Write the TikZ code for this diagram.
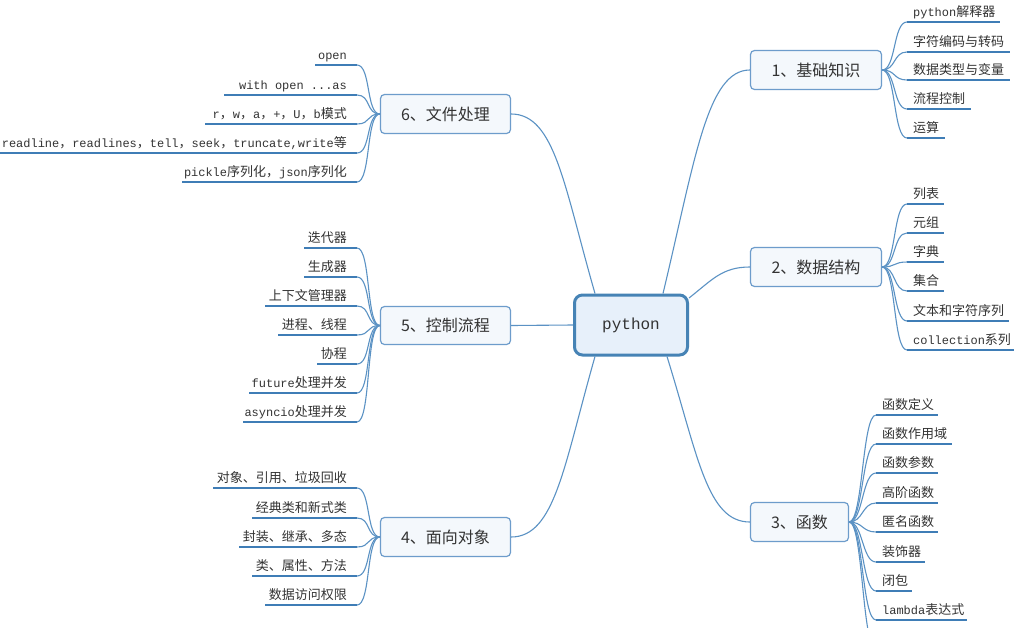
\documentclass[tikz,border=0pt]{standalone}
\usepackage{fontspec}
\setmainfont{Noto Sans CJK SC}
\newfontfamily\mono{Liberation Mono}[Scale=0.92]
\newfontfamily\cmono{Liberation Mono}
\usetikzlibrary{calc}
\definecolor{lineblue}{HTML}{5B92C4}
\definecolor{ulblue}{HTML}{3F7DB6}
\definecolor{topicfill}{HTML}{F4F8FC}
\definecolor{topicdraw}{HTML}{6D9CCB}
\definecolor{centerfill}{HTML}{E7F0FA}
\definecolor{centerdraw}{HTML}{4683B5}
\definecolor{txt}{HTML}{333333}
\tikzset{
  topic/.style={draw=topicdraw, fill=topicfill, rounded corners=4pt, line width=1.2pt,
    text=txt, font=\fontsize{16}{18}\selectfont, inner sep=0pt},
  leaf/.style={text=txt, font=\fontsize{13}{15}\selectfont, inner sep=0pt},
  conn/.style={draw=lineblue, line width=1.1pt},
  ul/.style={draw=ulblue, line width=1.3pt},
}
% left child: name, parent, y, x-left, text
\newcommand\lchild[5]{%
  \coordinate (#1e) at (357,#3);
  \coordinate (#1s) at (#4,#3);
  \node[leaf, anchor=base east] (#1) at (347,#3-5.5) {#5};
  \draw[conn] (#2.west) .. controls ($(#2.west)+(-14,0)$) and ($(#1e)+(14,0)$) .. (#1e);
  \draw[ul] (#1e) -- (#1s);
}
% right child: name, parent, y, x-start, x-right, text
\newcommand\rchild[6]{%
  \coordinate (#1s) at (#4,#3);
  \coordinate (#1e) at (#5,#3);
  \node[leaf, anchor=base west] (#1) at (#4+6,#3-5.5) {#6};
  \draw[conn] (#2.east) .. controls ($(#2.east)+(14,0)$) and ($(#1s)+(-14,0)$) .. (#1s);
  \draw[ul] (#1s) -- (#1e);
}
\begin{document}
\begin{tikzpicture}[x=1pt,y=-1pt]
\useasboundingbox (0,0) rectangle (1015,627);
\fill[white] (0,0) rectangle (1015,627);

% center
\node[draw=centerdraw, fill=centerfill, line width=3pt, rounded corners=8pt,
  minimum width=113pt, minimum height=60pt, text=txt, inner sep=0pt,
  font=\cmono\fontsize{16}{18}\selectfont] (c) at (631,325) {python};

% topics
\node[topic, minimum width=131pt, minimum height=39pt] (t1) at (816,70) {1、基础知识};
\node[topic, minimum width=131pt, minimum height=39pt] (t2) at (816,267) {2、数据结构};
\node[topic, minimum width=98pt, minimum height=39pt] (t3) at (799.5,522) {3、函数};
\node[topic, minimum width=130pt, minimum height=39pt] (t4) at (445.5,537) {4、面向对象};
\node[topic, minimum width=130pt, minimum height=38pt] (t5) at (445.5,325.5) {5、控制流程};
\node[topic, minimum width=130pt, minimum height=39pt] (t6) at (445.5,114) {6、文件处理};

% main connectors
\draw[conn] ([xshift=32pt]c.north) .. controls (695,160) and (707,70) .. (t1.west);
\draw[conn] ([yshift=27pt]c.east) .. controls (712,280) and (722,267) .. (t2.west);
\draw[conn] ([xshift=36pt]c.south) .. controls (698,456) and (707,522) .. (t3.west);
\draw[conn] ([xshift=-36pt]c.north) .. controls (564,186) and (555,114) .. (t6.east);
\draw[conn] (c.west) -- (t5.east);
\draw[conn] ([xshift=-36pt]c.south) .. controls (564,465) and (555,537) .. (t4.east);

% 6
\lchild{a1}{t6}{65}{315}{{\mono open}}
\lchild{a2}{t6}{95}{224}{{\mono with open ...as}}
\lchild{a3}{t6}{124}{205}{{\mono r}，{\mono w}，{\mono a}，{\mono +}，{\mono U}，{\mono b}模式}
\lchild{a4}{t6}{153}{0}{{\mono readline}，{\mono readlines}，{\mono tell}，{\mono seek}，{\mono truncate,write}等}
\lchild{a5}{t6}{182}{182}{{\mono pickle}序列化，{\mono json}序列化}

% 5
\lchild{b1}{t5}{248}{304}{迭代器}
\lchild{b2}{t5}{277}{304}{生成器}
\lchild{b3}{t5}{306}{265}{上下文管理器}
\lchild{b4}{t5}{335}{278}{进程、线程}
\lchild{b5}{t5}{364}{317}{协程}
\lchild{b6}{t5}{393}{249}{{\mono future}处理并发}
\lchild{b7}{t5}{422}{243}{{\mono asyncio}处理并发}

% 4
\lchild{d1}{t4}{488}{213}{对象、引用、垃圾回收}
\lchild{d2}{t4}{518}{252}{经典类和新式类}
\lchild{d3}{t4}{547}{239}{封装、继承、多态}
\lchild{d4}{t4}{576}{252}{类、属性、方法}
\lchild{d5}{t4}{605}{265}{数据访问权限}

% 1
\rchild{e1}{t1}{22}{907}{1000}{{\mono python}解释器}
\rchild{e2}{t1}{52}{907}{1010}{字符编码与转码}
\rchild{e3}{t1}{80}{907}{1010}{数据类型与变量}
\rchild{e4}{t1}{109}{907}{971}{流程控制}
\rchild{e5}{t1}{138}{907}{945}{运算}

% 2
\rchild{f1}{t2}{204}{907}{944}{列表}
\rchild{f2}{t2}{233}{907}{944}{元组}
\rchild{f3}{t2}{262}{907}{944}{字典}
\rchild{f4}{t2}{291}{907}{944}{集合}
\rchild{f5}{t2}{321}{907}{1009}{文本和字符序列}
\rchild{f6}{t2}{350}{907}{1014}{{\mono collection}系列}

% 3
\rchild{g1}{t3}{415}{876}{938}{函数定义}
\rchild{g2}{t3}{444}{876}{952}{函数作用域}
\rchild{g3}{t3}{473}{876}{938}{函数参数}
\rchild{g4}{t3}{503}{876}{938}{高阶函数}
\rchild{g5}{t3}{532}{876}{938}{匿名函数}
\rchild{g6}{t3}{562}{876}{925}{装饰器}
\rchild{g7}{t3}{591}{876}{912}{闭包}
\rchild{g8}{t3}{620}{876}{967}{{\mono lambda}表达式}
\coordinate (g9s) at (876,649);
\draw[conn] (t3.east) .. controls ($(t3.east)+(14,0)$) and ($(g9s)+(-14,0)$) .. (g9s);
\end{tikzpicture}
\end{document}
